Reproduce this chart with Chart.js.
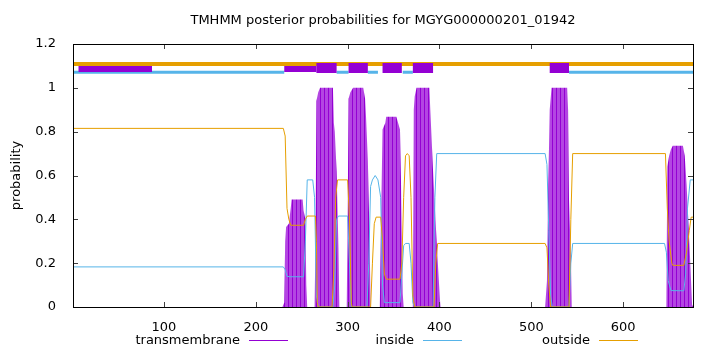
<!DOCTYPE html>
<html>
<head>
<meta charset="utf-8">
<script src="https://cdn.jsdelivr.net/npm/chart.js@4.4.0/dist/chart.umd.min.js"></script>
<style>
  html, body { margin: 0; padding: 0; background: #fff; }
  canvas { display: block; }
</style>
</head>
<body>
<canvas id="grafico" width="720" height="352"></canvas>
<script>
// Datos: [residuo, probabilidad]
const tmPuntos = [
  [1,0],[229,0],[231,0.02],[232,0.3],[233,0.365],[236,0.38],[238,0.45],[239,0.49],[251,0.49],[252,0.44],
  [254,0.4],[255,0.1],[256,0],[264,0],[265,0.3],[266,0.94],[268,0.98],[270,1.0],[284,1.0],[285,0.84],
  [286,0.8],[288,0.62],[290,0.27],[291,0],[299,0],[300,0.4],[301,0.95],[303,0.98],[306,1.0],[317,1.0],
  [319,0.95],[320,0.87],[322,0.67],[324,0.29],[325,0],[335,0],[336,0.3],[338,0.81],[341,0.84],[342,0.868],
  [353,0.868],[357,0.81],[358,0.6],[359,0.3],[360,0.06],[361,0],[371,0],[372,0.9],[373,0.96],[375,1.0],
  [389,1.0],[390,0.9],[393,0.62],[397,0.29],[400,0.07],[401,0],[515,0],[517,0.12],[518,0.45],[520,0.9],
  [522,1.0],[539,1.0],[540,0.9],[541,0.49],[543,0.24],[544,0],[647,0],[648,0.64],[650,0.69],[652,0.72],
  [654,0.736],[665,0.736],[667,0.69],[669,0.56],[672,0.3],[675,0.01],[676,0]
];
const insidePuntos = [
  [1,0.183],[230,0.183],[232,0.17],[234,0.14],[237,0.138],[252,0.138],[254,0.3],[256,0.58],[262,0.58],[264,0.5],
  [266,0.05],[268,0],[284,0],[286,0.1],[288,0.4],[290,0.415],[300,0.415],[302,0.2],[304,0],[321,0],
  [323,0.2],[325,0.55],[327,0.58],[330,0.6],[333,0.58],[336,0.5],[338,0.1],[340,0.02],[357,0.02],[359,0.15],
  [361,0.28],[363,0.29],[367,0.29],[369,0.2],[371,0.02],[373,0],[393,0],[395,0.5],[397,0.7],[515,0.7],
  [517,0.65],[519,0.35],[521,0.05],[523,0],[541,0],[543,0.2],[545,0.29],[645,0.29],[647,0.25],[649,0.12],
  [652,0.075],[666,0.074],[668,0.15],[670,0.45],[673,0.58],[676,0.58]
];
const outsidePuntos = [
  [1,0.815],[230,0.815],[232,0.78],[234,0.45],[236,0.4],[238,0.373],[252,0.373],[254,0.4],[256,0.415],[265,0.415],
  [266,0.3],[267,0.02],[268,0],[283,0],[285,0.17],[287,0.5],[289,0.58],[300,0.58],[302,0.4],[304,0.02],
  [305,0],[325,0],[327,0.2],[329,0.38],[331,0.41],[336,0.41],[338,0.3],[340,0.15],[342,0.127],[357,0.127],
  [359,0.2],[361,0.5],[363,0.69],[365,0.7],[367,0.69],[369,0.5],[371,0.05],[373,0],[394,0],[396,0.2],
  [398,0.29],[515,0.29],[517,0.27],[519,0.1],[521,0],[541,0],[543,0.4],[545,0.7],[646,0.7],[648,0.45],
  [650,0.3],[653,0.2],[654,0.19],[666,0.19],[669,0.25],[672,0.35],[674,0.41],[676,0.41]
];
// Tramos de la barra de topologia superior
const outsideTramos = [[1,676]];
const insideTramos = [[1,231],[288,301],[322,333],[360,371],[541,676]];
const tmTramosBajos = [[7,87],[231,266]];
const tmTramosAltos = [[266,288],[301,322],[338,359],[371,393],[520,541]];

const xTicks = [100, 200, 300, 400, 500, 600];
const yTicks = [0, 0.2, 0.4, 0.6, 0.8, 1, 1.2];
const etiquetas = ['transmembrane', 'inside', 'outside'];
const titulo = 'TMHMM posterior probabilities for MGYG000000201_01942';
const tituloY = 'probability';

const VIOLETA = '#9400d3';
const AZUL = '#56b4e9';
const NARANJA = '#e69f00';
const FUENTE = '13px "DejaVu Sans"';

function aPuntos(lista) {
  return lista.map(p => ({ x: p[0], y: p[1] }));
}

function tramosAPuntos(tramos, nivel) {
  let puntos = [];
  tramos.forEach(t => {
    puntos.push({ x: t[0], y: nivel });
    puntos.push({ x: t[1], y: nivel });
    puntos.push({ x: t[1], y: null });
  });
  return puntos;
}

// Patron rayado que imita los impulsos de gnuplot
function patronImpulsos() {
  let c = document.createElement('canvas');
  c.width = 4; c.height = 1;
  let g = c.getContext('2d');
  g.fillStyle = '#b346e2';
  g.fillRect(0, 0, 4, 1);
  g.fillStyle = VIOLETA;
  g.fillRect(0, 0, 1, 1);
  return g.createPattern(c, 'repeat');
}

const textosGnuplot = {
  id: 'textosGnuplot',
  afterDatasetsDraw(chart) {
    const ctx = chart.ctx;
    const a = chart.chartArea;
    const sx = chart.scales.x, sy = chart.scales.y;
    ctx.save();
    // ticks hacia adentro
    ctx.strokeStyle = '#404040';
    ctx.lineWidth = 1;
    ctx.beginPath();
    yTicks.forEach(v => {
      let py = Math.round(sy.getPixelForValue(v)) + 0.5;
      ctx.moveTo(a.left, py); ctx.lineTo(a.left + 5, py);
      ctx.moveTo(a.right, py); ctx.lineTo(a.right - 5, py);
    });
    xTicks.forEach(v => {
      let px = Math.round(sx.getPixelForValue(v)) + 0.5;
      ctx.moveTo(px, a.bottom); ctx.lineTo(px, a.bottom - 5);
      ctx.moveTo(px, a.top); ctx.lineTo(px, a.top + 5);
    });
    ctx.stroke();
    // marco
    ctx.strokeStyle = '#000';
    ctx.strokeRect(Math.round(a.left) + 0.5, Math.round(a.top) + 0.5,
      Math.round(a.right - a.left), Math.round(a.bottom - a.top));
    ctx.restore();
  },
  afterDraw(chart) {
    const ctx = chart.ctx;
    const a = chart.chartArea;
    ctx.save();
    ctx.fillStyle = '#000';
    ctx.font = FUENTE;
    ctx.textBaseline = 'middle';
    ctx.textAlign = 'center';
    ctx.fillText(titulo, (a.left + a.right) / 2, 21);
    ctx.save();
    ctx.translate(17, (a.top + a.bottom) / 2);
    ctx.rotate(-Math.PI / 2);
    ctx.fillText(tituloY, 0, 0);
    ctx.restore();
    // leyenda estilo gnuplot: texto y luego la muestra
    const colores = [VIOLETA, AZUL, NARANJA];
    const finTexto = [240, 414, 590];
    ctx.textAlign = 'right';
    etiquetas.forEach((txt, i) => {
      ctx.fillStyle = '#000';
      ctx.fillText(txt, finTexto[i], 341);
      ctx.strokeStyle = colores[i];
      ctx.lineWidth = 1;
      ctx.beginPath();
      ctx.moveTo(finTexto[i] + 9, 340.5);
      ctx.lineTo(finTexto[i] + 48, 340.5);
      ctx.stroke();
    });
    ctx.restore();
  }
};

const ctx = document.getElementById('grafico');
const grafico = new Chart(ctx, {
  type: 'line',
  data: {
    datasets: [
      { label: 'tm-altos', data: tramosAPuntos(tmTramosAltos, 1.09), borderColor: VIOLETA, borderWidth: 10, order: 1 },
      { label: 'tm-bajos', data: tramosAPuntos(tmTramosBajos, 1.086), borderColor: VIOLETA, borderWidth: 6, order: 2 },
      { label: 'inside-top', data: tramosAPuntos(insideTramos, 1.071), borderColor: AZUL, borderWidth: 3, order: 3 },
      { label: 'outside-top', data: tramosAPuntos(outsideTramos, 1.109), borderColor: NARANJA, borderWidth: 4, order: 4 },
      { label: etiquetas[2], data: aPuntos(outsidePuntos), borderColor: NARANJA, borderWidth: 1, order: 5 },
      { label: etiquetas[1], data: aPuntos(insidePuntos), borderColor: AZUL, borderWidth: 1, order: 6 },
      { label: etiquetas[0], data: aPuntos(tmPuntos), borderColor: 'rgba(0,0,0,0)', borderWidth: 0,
        backgroundColor: patronImpulsos(), fill: 'origin', order: 7 }
    ]
  },
  options: {
    responsive: false,
    animation: false,
    devicePixelRatio: 1,
    spanGaps: false,
    elements: { point: { radius: 0 }, line: { tension: 0 } },
    layout: { padding: { top: 44, right: 27, left: 0, bottom: 0 } },
    plugins: { legend: { display: false }, tooltip: { enabled: false }, title: { display: false } },
    scales: {
      x: {
        type: 'linear', min: 1, max: 676,
        grid: { display: false }, border: { display: false },
        afterBuildTicks: s => { s.ticks = xTicks.map(v => ({ value: v })); },
        afterFit: s => { s.height = 45; },
        ticks: { color: '#000', font: { family: 'DejaVu Sans', size: 13 }, padding: 5, maxRotation: 0 }
      },
      y: {
        min: 0, max: 1.2,
        grid: { display: false }, border: { display: false },
        afterBuildTicks: s => { s.ticks = yTicks.map(v => ({ value: v })); },
        afterFit: s => { s.width = 73; },
        ticks: { color: '#000', font: { family: 'DejaVu Sans', size: 13 }, padding: 9,
          callback: v => String(Math.round(v * 10) / 10) }
      }
    }
  },
  plugins: [textosGnuplot]
});
</script>
</body>
</html>
